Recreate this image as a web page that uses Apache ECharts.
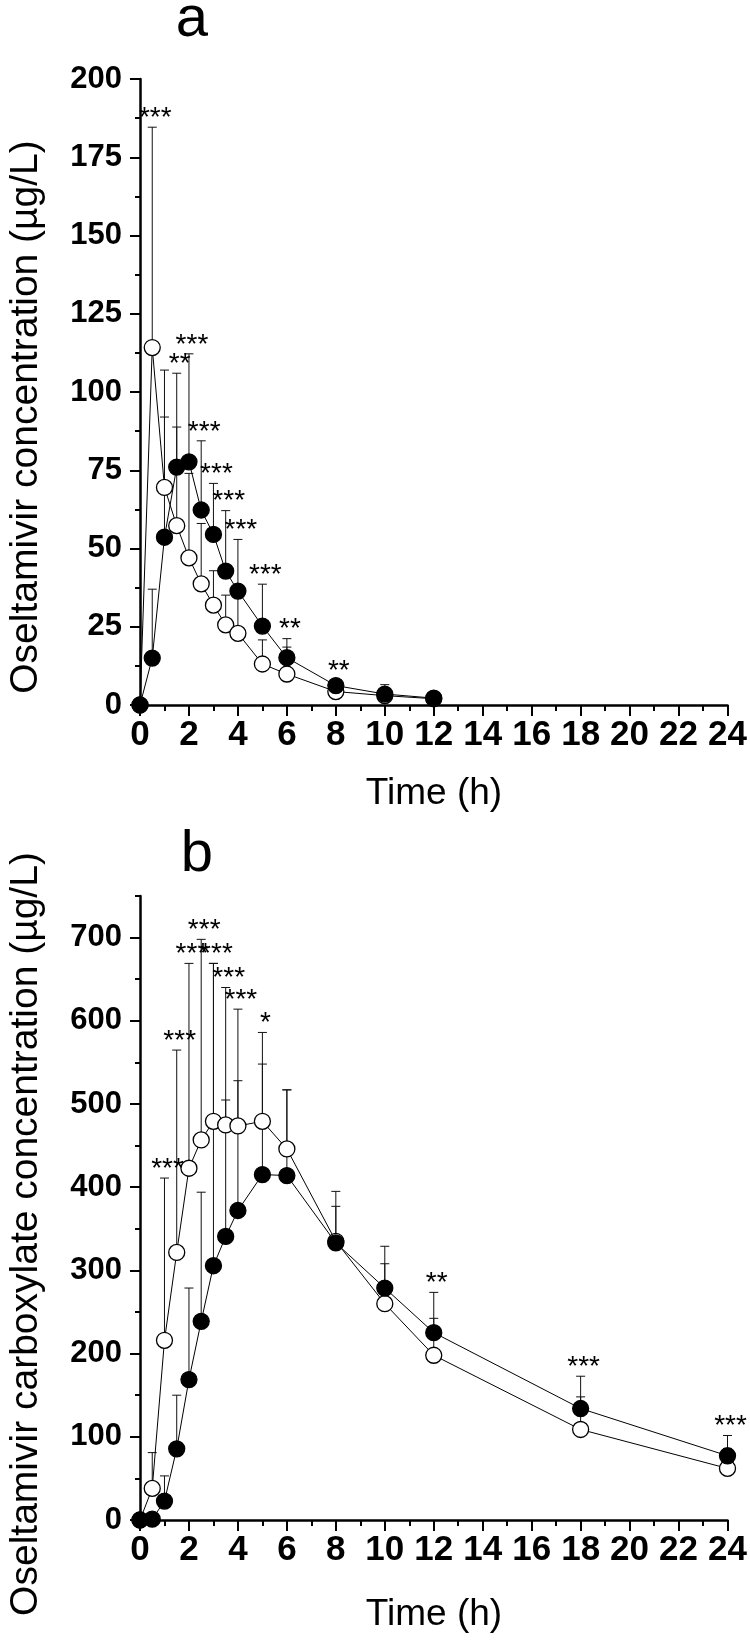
<!DOCTYPE html>
<html><head><meta charset="utf-8">
<script src="https://cdn.jsdelivr.net/npm/echarts@6/dist/echarts.min.js"></script>
<style>html,body{margin:0;padding:0;background:#fff}#c{width:750px;height:1642px}</style>
</head><body><div id="c"></div>
<script>
// ---- Panel a: Oseltamivir ----
const timesA = [0, 0.5, 1, 1.5, 2, 2.5, 3, 3.5, 4, 5, 6, 8, 10, 12];
const openA = [0, 114.2, 69.5, 57.3, 47, 38.7, 31.9, 25.6, 22.9, 13.1, 9.9, 4.3, 3, 2];
const openErrTopA = [0, 184.6, 107, 88.8, 74, 58, 42.9, 35.1, 35, 20.8, 18.5, 6, 5, 2.3];
const filledA = [0, 15, 53.6, 76, 77.7, 62.3, 54.5, 42.8, 36.4, 25.2, 15.1, 6.2, 3.5, 2.2];
const filledErrTopA = [0, 37, 92, 106, 112.2, 84.4, 70.8, 62.1, 52.9, 38.6, 21.2, 8, 6.5, 2.5];
const starTimesA = [0.5, 1.5, 2, 2.5, 3, 3.5, 4, 5, 6, 8];
const starMarksA = ['***', '**', '***', '***', '***', '***', '***', '***', '**', '**'];
const yTicksA = [0, 25, 50, 75, 100, 125, 150, 175, 200];

// ---- Panel b: Oseltamivir carboxylate ----
const timesB = [0, 0.5, 1, 1.5, 2, 2.5, 3, 3.5, 4, 5, 6, 8, 10, 12, 18, 24];
const openB = [0, 38, 216, 321.6, 422.8, 456.8, 479.2, 474.8, 473.6, 479.2, 446, 335, 260, 198, 108.8, 62];
const openErrTopB = [0, 81, 411, 564.8, 669, 697.9, 669, 640, 614, 586, 517, 377, 308, 242.4, 148, 86];
const filledB = [0, 1, 22.8, 85.6, 168.8, 238.8, 305.6, 340.8, 372, 415.2, 414, 333, 278.8, 225.2, 134, 77.2];
const filledErrTopB = [0, 1, 53, 150, 278.8, 394, 669, 504.8, 528, 548, 517, 395, 329, 273.6, 172.8, 101.6];
const starTimesB = [1, 1.5, 2, 2.5, 3, 3.5, 4, 5, 12, 18, 24];
const starMarksB = ['***', '***', '***', '***', '***', '***', '***', '*', '**', '***', '***'];
const yTicksB = [0, 100, 200, 300, 400, 500, 600, 700];

const xTicks = [0, 2, 4, 6, 8, 10, 12, 14, 16, 18, 20, 22, 24];

const FONT = '"Liberation Sans", Arial, Helvetica, sans-serif';

function starAnchors(times, starTimes, errA, errB) {
  return starTimes.map(t => {
    const i = times.indexOf(t);
    return [t, Math.max(errA[i], errB[i])];
  });
}

function errRender(params, api) {
  const x = api.value(0), y = api.value(1), top = api.value(2);
  if (!(top > y)) return { type: 'group', children: [] };
  const p0 = api.coord([x, y]);
  const p1 = api.coord([x, top]);
  const hw = 4.5;
  const st = { stroke: '#111', lineWidth: 1 };
  return {
    type: 'group', children: [
      { type: 'line', shape: { x1: p0[0], y1: p0[1], x2: p1[0], y2: p1[1] }, style: st },
      { type: 'line', shape: { x1: p1[0] - hw, y1: p1[1], x2: p1[0] + hw, y2: p1[1] }, style: st }
    ]
  };
}

function starSeries(anchors, marks, xi, yi) {
  return {
    type: 'custom', xAxisIndex: xi, yAxisIndex: yi, z: 5, silent: true,
    data: anchors,
    renderItem: function (params, api) {
      const p = api.coord([api.value(0), api.value(1)]);
      return {
        type: 'text', x: p[0] + 3, y: p[1] + 5,
        style: { text: marks[params.dataIndex], font: '28px ' + FONT, fill: '#000', align: 'center', verticalAlign: 'bottom' }
      };
    }
  };
}

function errSeries(times, vals, tops, xi, yi) {
  return {
    type: 'custom', xAxisIndex: xi, yAxisIndex: yi, z: 1, silent: true,
    encode: { x: 0, y: [1, 2] },
    data: times.map((t, i) => [t, vals[i], tops[i]]),
    renderItem: errRender
  };
}

function lineSeries(times, vals, fill, xi, yi, z) {
  return {
    type: 'line', xAxisIndex: xi, yAxisIndex: yi, z: z,
    data: times.map((t, i) => [t, vals[i]]),
    symbol: 'circle', symbolSize: 16, showSymbol: true,
    itemStyle: { color: fill, borderColor: '#000', borderWidth: 1.3 },
    lineStyle: { color: '#000', width: 1 },
    emphasis: { disabled: true }
  };
}

const axisLine = { show: true, onZero: false, lineStyle: { color: '#000', width: 2.5 } };

function xAxisDef(gi) {
  return {
    gridIndex: gi, type: 'value', min: 0, max: 24, interval: 2,
    axisLine: axisLine,
    axisTick: { show: true, length: 11, lineStyle: { color: '#000', width: 2 } },
    minorTick: { show: true, splitNumber: 2, length: 6, lineStyle: { color: '#000', width: 2 } },
    axisLabel: { color: '#000', fontSize: 35, fontWeight: 'bold', fontFamily: FONT, margin: 13,
      customValues: xTicks },
    splitLine: { show: false }, minorSplitLine: { show: false }
  };
}

const option = {
  animation: false,
  backgroundColor: '#fff',
  grid: [
    { left: 140, top: 79, width: 587.5, height: 626 },
    { left: 140, top: 896, width: 587.5, height: 624 }
  ],
  xAxis: [xAxisDef(0), xAxisDef(1)],
  yAxis: [
    {
      gridIndex: 0, type: 'value', min: 0, max: 200, interval: 25, position: 'left',
      axisLine: axisLine,
      axisTick: { show: true, length: 10, lineStyle: { color: '#000', width: 2 } },
      minorTick: { show: true, splitNumber: 2, length: 5, lineStyle: { color: '#000', width: 2 } },
      axisLabel: { color: '#000', fontSize: 31, fontWeight: 'bold', fontFamily: FONT, margin: 18, customValues: yTicksA },
      splitLine: { show: false }, minorSplitLine: { show: false }
    },
    {
      gridIndex: 1, type: 'value', min: 0, max: 750, interval: 50, position: 'left',
      axisLine: axisLine,
      axisTick: { show: true, length: 10, lineStyle: { color: '#000', width: 2 }, customValues: yTicksB },
      axisLabel: { color: '#000', fontSize: 31, fontWeight: 'bold', fontFamily: FONT, margin: 18, customValues: yTicksB },
      splitLine: { show: false }
    },
    {
      gridIndex: 1, type: 'value', min: 0, max: 750, interval: 50, position: 'left', offset: 0,
      axisLine: { show: false },
      axisTick: { show: true, length: 5, lineStyle: { color: '#000', width: 2 } },
      axisLabel: { show: false },
      splitLine: { show: false }
    }
  ],
  graphic: [
    { type: 'text', x: 192, y: 20, style: { text: 'a', font: '58px ' + FONT, fill: '#000', align: 'center', verticalAlign: 'middle' } },
    { type: 'text', x: 197, y: 855, style: { text: 'b', font: '58px ' + FONT, fill: '#000', align: 'center', verticalAlign: 'middle' } },
    { type: 'text', x: 434, y: 794, style: { text: 'Time (h)', font: '37px ' + FONT, fill: '#000', align: 'center', verticalAlign: 'middle' } },
    { type: 'text', x: 434, y: 1615, style: { text: 'Time (h)', font: '37px ' + FONT, fill: '#000', align: 'center', verticalAlign: 'middle' } },
    { type: 'text', x: 26, y: 417, rotation: Math.PI / 2, style: { text: 'Oseltamivir concentration (µg/L)', font: '39px ' + FONT, fill: '#000', align: 'center', verticalAlign: 'middle' } },
    { type: 'text', x: 26, y: 1234, rotation: Math.PI / 2, style: { text: 'Oseltamivir carboxylate concentration (µg/L)', font: '39px ' + FONT, fill: '#000', align: 'center', verticalAlign: 'middle' } }
  ],
  series: [
    errSeries(timesA, openA, openErrTopA, 0, 0),
    errSeries(timesA, filledA, filledErrTopA, 0, 0),
    lineSeries(timesA, openA, '#fff', 0, 0, 2),
    lineSeries(timesA, filledA, '#000', 0, 0, 3),
    starSeries(starAnchors(timesA, starTimesA, openErrTopA, filledErrTopA), starMarksA, 0, 0),

    errSeries(timesB, openB, openErrTopB, 1, 1),
    errSeries(timesB, filledB, filledErrTopB, 1, 1),
    lineSeries(timesB, openB, '#fff', 1, 1, 2),
    lineSeries(timesB, filledB, '#000', 1, 1, 3),
    starSeries(starAnchors(timesB, starTimesB, openErrTopB, filledErrTopB), starMarksB, 1, 1)
  ]
};

const chart = echarts.init(document.getElementById('c'), null, { renderer: 'canvas' });
chart.setOption(option);
</script>
</body></html>
